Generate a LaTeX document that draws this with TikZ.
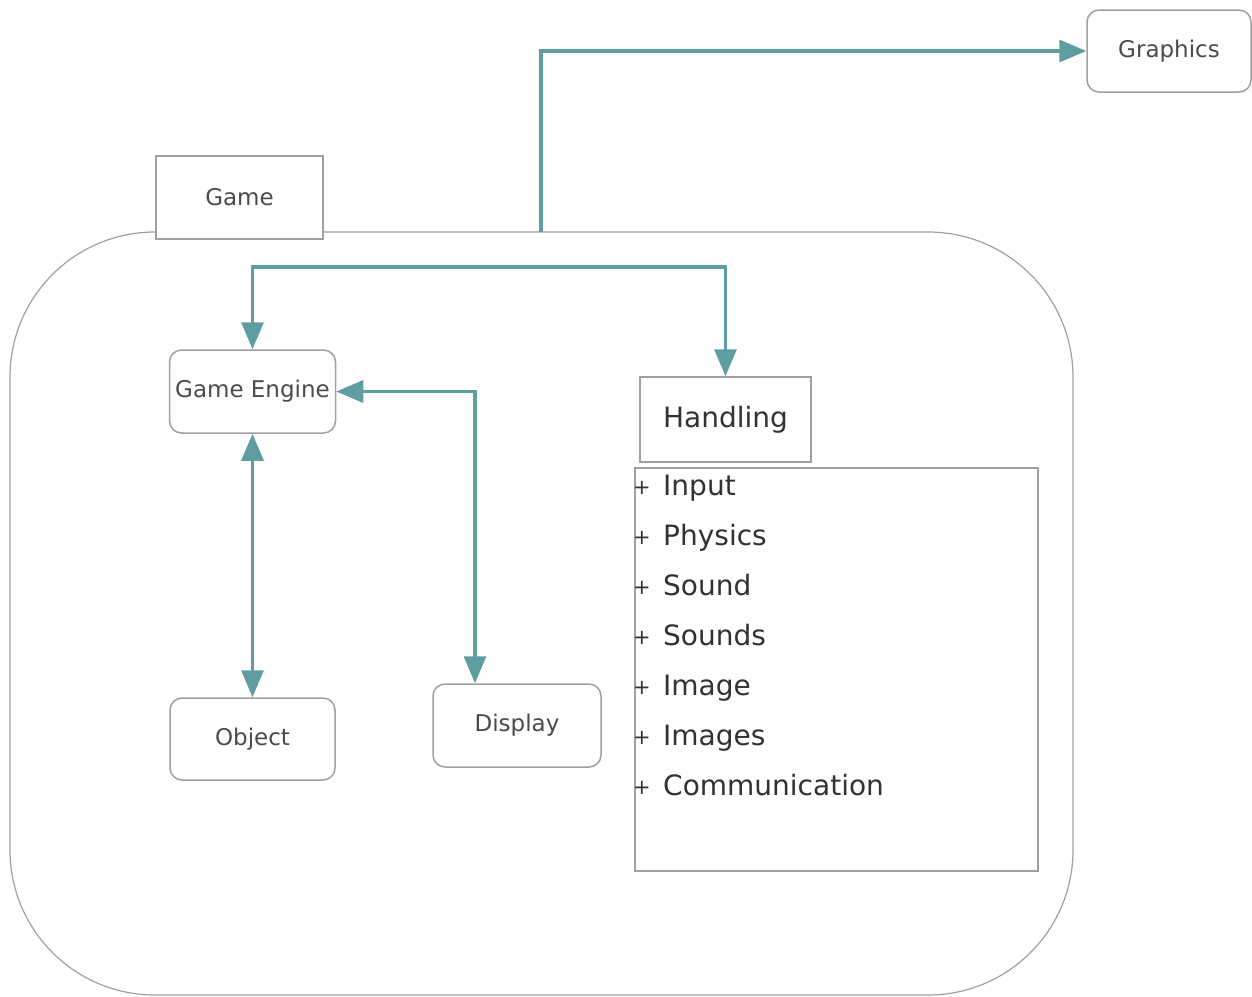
\documentclass[tikz,border=0pt]{standalone}
\usepackage{fontspec}
\setmainfont{DejaVu Sans}
\usetikzlibrary{arrows.meta}
\definecolor{teal}{RGB}{95,158,160}
\definecolor{edge}{RGB}{160,160,160}
\definecolor{label}{RGB}{75,75,75}
\definecolor{item}{RGB}{50,50,50}
\tikzset{
  box/.style={draw=edge, line width=1.5pt, fill=white, inner sep=0pt,
    text=label, font=\fontsize{23}{27}\selectfont},
  roundbox/.style={box, rounded corners=12pt},
  conn/.style={draw=teal, line width=3.2pt,
    arrows={-{Triangle[length=27pt,width=22pt]}}},
  both/.style={conn, arrows={{Triangle[length=27pt,width=22pt]}-{Triangle[length=27pt,width=22pt]}}},
  entry/.style={anchor=base west, inner sep=0pt, text=item,
    font=\fontsize{28}{33}\selectfont},
  bullet/.style={inner sep=0pt, text=item, font=\fontsize{21}{24}\selectfont}
}
\begin{document}
\begin{tikzpicture}[x=1pt, y=-1pt]
  \useasboundingbox (0,0) rectangle (1252,996);

  % outer container of the game
  \draw[draw=edge, line width=1.2pt, rounded corners=145pt] (10,232) rectangle (1073,995);

  % boxes
  \node[box, minimum width=167pt, minimum height=83pt] (game) at (239.5,197.5) {Game};
  \node[roundbox, minimum width=164pt, minimum height=82pt] (graphics) at (1169,51) {Graphics};
  \node[roundbox, minimum width=166pt, minimum height=83pt] (engine) at (252.5,391.5) {Game Engine};
  \node[box, minimum width=171pt, minimum height=85pt,
        font=\fontsize{28}{33}\selectfont, text=item] (handling) at (725.5,419.5) {Handling};
  \node[box, minimum width=403pt, minimum height=403pt] (list) at (836.5,669.5) {};
  \node[roundbox, minimum width=165pt, minimum height=82pt] (object) at (252.5,739) {Object};
  \node[roundbox, minimum width=168pt, minimum height=83pt] (display) at (517,725.5) {Display};

  % members of the handling list
  \foreach \name/\y in {Input/495, Physics/545, Sound/595, Sounds/645,
                        Image/695, Images/745, Communication/795} {
    \node[bullet] (b\name) at (642,\y-7) {+};
    \node[entry] (e\name) at (663,\y) {\name};
  }

  % connectors
  \coordinate (gtop) at (541,232);
  \coordinate (bus) at (490,267);
  \draw[conn] (gtop) |- (graphics.west);
  \draw[both] (engine.north) |- (bus) -| (handling.north);
  \draw[both] (engine.south) -- (object.north);
  \draw[both] (engine.east) -| ([xshift=-42pt]display.north);
\end{tikzpicture}
\end{document}
